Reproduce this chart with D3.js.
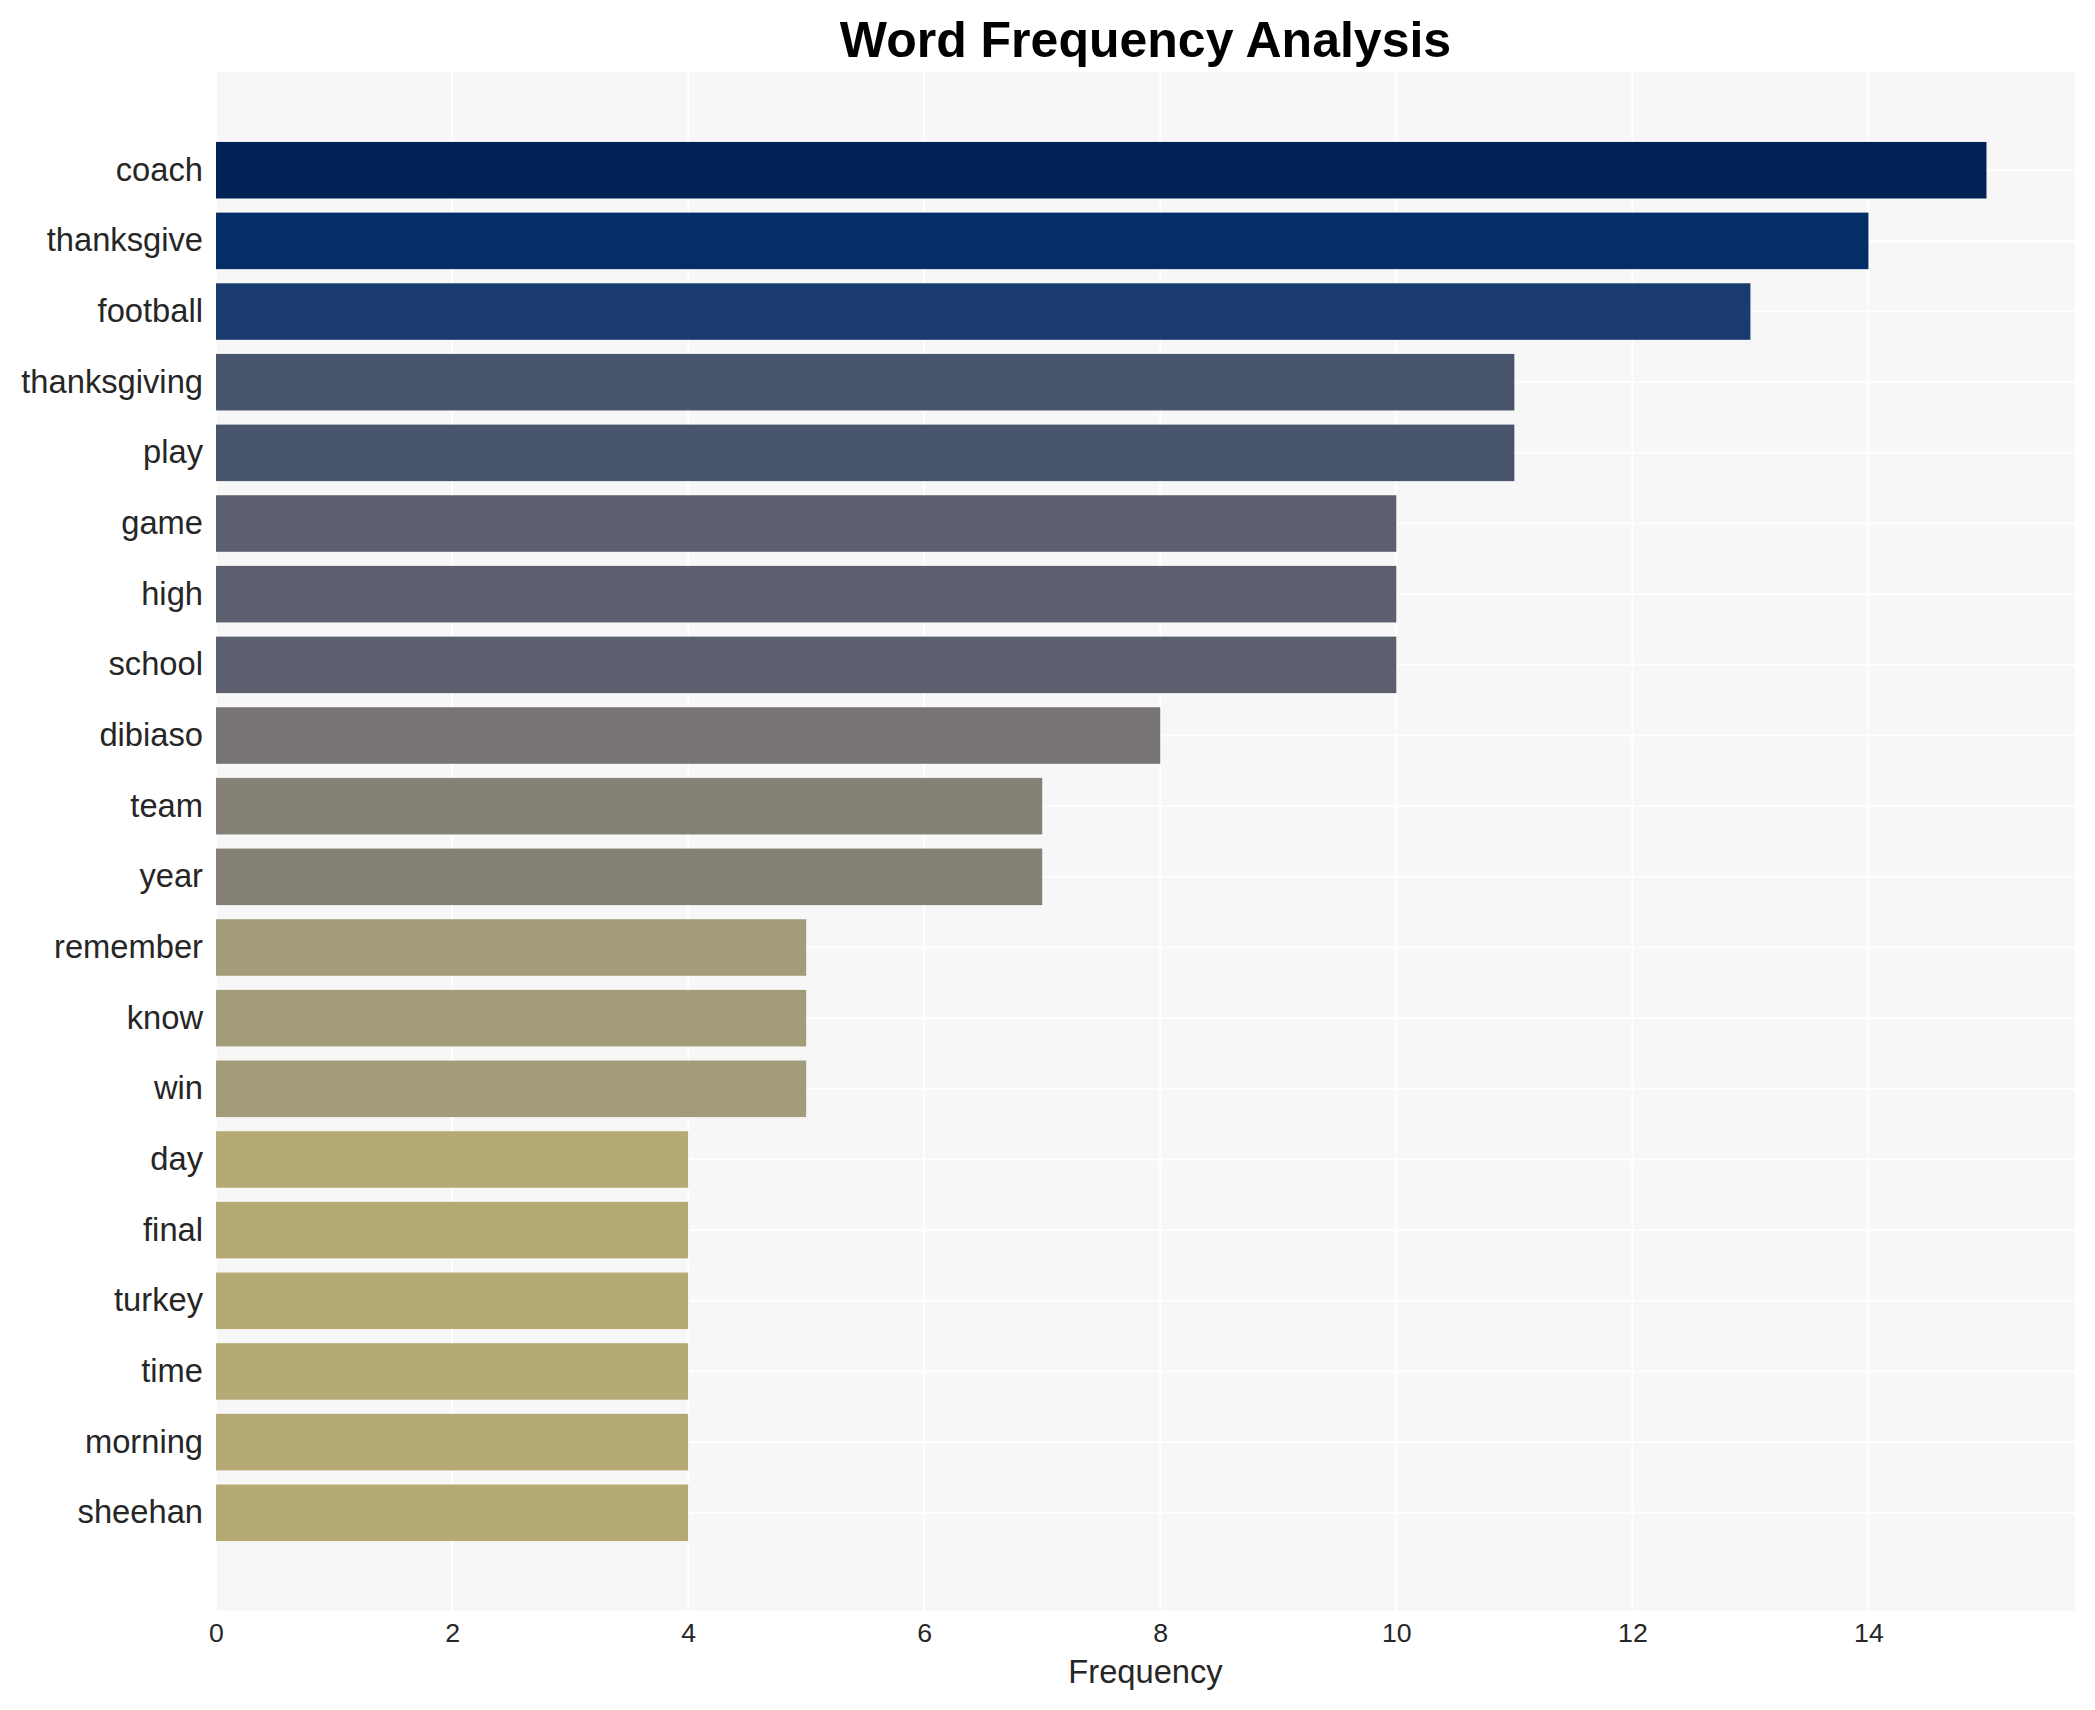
<!DOCTYPE html>
<html>
<head>
<meta charset="utf-8">
<script src="https://cdn.jsdelivr.net/npm/d3@7"></script>
<style>
  html, body { margin: 0; padding: 0; background: #ffffff; }
  svg { display: block; font-family: "Liberation Sans", Arial, sans-serif; }
</style>
</head>
<body>
<svg id="chart" width="2095" height="1710"></svg>
<script>
const words = ["coach","thanksgive","football","thanksgiving","play","game","high","school","dibiaso","team","year","remember","know","win","day","final","turkey","time","morning","sheehan"];
const counts = [15,14,13,11,11,10,10,10,8,7,7,5,5,5,4,4,4,4,4,4];
const xTicks = [0,2,4,6,8,10,12,14];
const titleText = "Word Frequency Analysis";
const xLabel = "Frequency";

const W = 2095, H = 1710;
const m = {left: 216, right: 2075, top: 72, bottom: 1611};

const svg = d3.select("#chart");

const x = d3.scaleLinear().domain([0, d3.max(counts) * 1.05]).range([m.left, m.right]);
const y = d3.scaleBand().domain(words).range([m.top, m.bottom]).paddingInner(0.2).paddingOuter(0.99);
const cmax = d3.max(counts), cmin = d3.min(counts);
const color = d3.scaleLinear().domain([cmax, 11, 8, cmin]).range([0.01, 0.29, 0.46, 0.73]);

// background
svg.append("rect").attr("x", m.left).attr("y", m.top)
  .attr("width", m.right - m.left).attr("height", m.bottom - m.top)
  .attr("fill", "#f7f7f7");

// grid
const g = svg.append("g");
g.selectAll("line.v").data(xTicks).join("line").attr("class","v")
  .attr("x1", d => x(d)).attr("x2", d => x(d))
  .attr("y1", m.top).attr("y2", m.bottom)
  .attr("stroke", "#ffffff").attr("stroke-width", 2);
g.selectAll("line.h").data(words).join("line").attr("class","h")
  .attr("x1", m.left).attr("x2", m.right)
  .attr("y1", d => y(d) + y.bandwidth()/2).attr("y2", d => y(d) + y.bandwidth()/2)
  .attr("stroke", "#ffffff").attr("stroke-width", 2);

// bars
const data = words.map((w, i) => ({word: w, count: counts[i]}));
svg.append("g").selectAll("rect").data(data).join("rect")
  .attr("x", x(0))
  .attr("y", d => y(d.word))
  .attr("width", d => x(d.count) - x(0))
  .attr("height", y.bandwidth())
  .attr("fill", d => d3.interpolateCividis(color(d.count)));

// y axis labels
const yAxis = d3.axisLeft(y).tickSize(0).tickPadding(13);
const ya = svg.append("g").attr("transform", `translate(${m.left},0)`).call(yAxis);
ya.select(".domain").remove();
ya.selectAll("text").attr("font-size", "32.7px").attr("fill", "#262626")
  .attr("font-family", "'Liberation Sans', Arial, sans-serif");

// x axis
const xAxis = d3.axisBottom(x).tickValues(xTicks).tickSize(0).tickPadding(12).tickFormat(d3.format("d"));
const xa = svg.append("g").attr("transform", `translate(0,${m.bottom})`).call(xAxis);
xa.select(".domain").remove();
xa.selectAll("text").attr("font-size", "26.7px").attr("fill", "#262626")
  .attr("font-family", "'Liberation Sans', Arial, sans-serif");

// x label
svg.append("text").attr("x", (m.left + m.right)/2).attr("y", 1683)
  .attr("text-anchor", "middle").attr("font-size", "32.7px").attr("fill", "#262626")
  .text(xLabel);

// title
svg.append("text").attr("x", (m.left + m.right)/2).attr("y", 57)
  .attr("text-anchor", "middle").attr("font-size", "50px").attr("font-weight", "bold")
  .attr("fill", "#000000").text(titleText);
</script>
</body>
</html>
